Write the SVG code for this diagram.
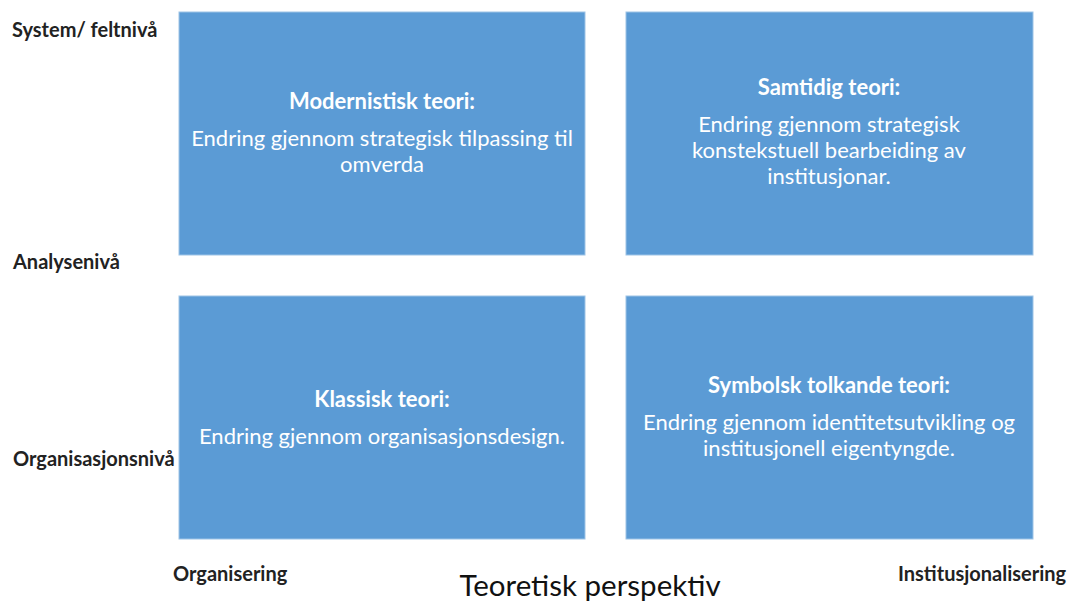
<svg xmlns="http://www.w3.org/2000/svg" width="1069" height="601" viewBox="0 0 1069 601">
<style>
.box{fill:#5B9BD5;stroke:#9DC3E6;stroke-width:1}
.t{font-family:Lato,"Liberation Sans",sans-serif;fill:#fff;text-anchor:middle;font-size:22px}
.h{font-weight:bold}
.ax{font-family:Lato,"Liberation Sans",sans-serif;fill:#222;font-weight:bold;font-size:20px}
.big{font-family:Lato,"Liberation Sans",sans-serif;fill:#111;font-size:29.5px;text-anchor:middle}
</style>
<rect width="1069" height="601" fill="#fff"/>
<g id="n-modernistisk">
<rect class="box" x="179" y="12" width="406" height="243"/>
<text class="t h" x="382" y="109">Modernistisk teori:</text>
<text class="t" x="382" y="146">Endring gjennom strategisk tilpassing til</text>
<text class="t" x="382" y="172">omverda</text>
</g>
<g id="n-samtidig">
<rect class="box" x="626" y="12" width="407" height="243"/>
<text class="t h" x="829" y="95">Samtidig teori:</text>
<text class="t" x="829" y="132">Endring gjennom strategisk</text>
<text class="t" x="829" y="158">konstekstuell bearbeiding av</text>
<text class="t" x="829" y="184">institusjonar.</text>
</g>
<g id="n-klassisk">
<rect class="box" x="179" y="296" width="406" height="243"/>
<text class="t h" x="382" y="407">Klassisk teori:</text>
<text class="t" x="382" y="444">Endring gjennom organisasjonsdesign.</text>
</g>
<g id="n-symbolsk">
<rect class="box" x="626" y="296" width="407" height="243"/>
<text class="t h" x="829" y="393">Symbolsk tolkande teori:</text>
<text class="t" x="829" y="430">Endring gjennom identitetsutvikling og</text>
<text class="t" x="829" y="456">institusjonell eigentyngde.</text>
</g>
<g id="labels">
<text class="ax" x="12" y="37">System/ feltnivå</text>
<text class="ax" x="13" y="269">Analysenivå</text>
<text class="ax" x="13" y="466">Organisasjonsnivå</text>
<text class="ax" x="173" y="581">Organisering</text>
<text class="ax" x="898" y="581">Institusjonalisering</text>
<text class="big" x="590" y="596">Teoretisk perspektiv</text>
</g>
<g id="connectors"></g>
</svg>
